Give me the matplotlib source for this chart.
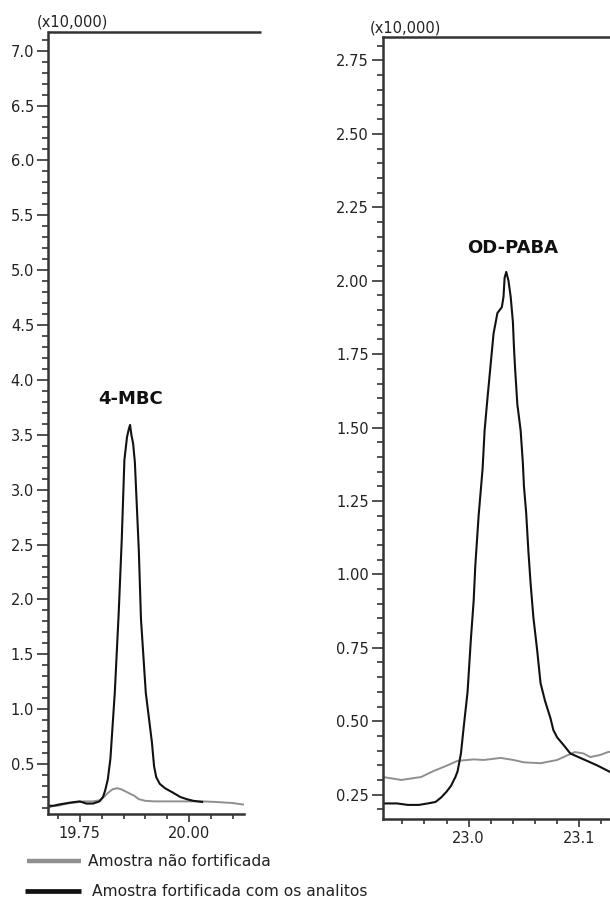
import matplotlib
matplotlib.use("Agg")
import matplotlib.pyplot as plt
from matplotlib.lines import Line2D
from matplotlib.ticker import MultipleLocator, FormatStrFormatter

plt.rcParams['font.family'] = ['DejaVu Sans']

# ---------------- data (intensity in x10,000) ----------------
# 4-MBC, fortified sample (black)
rt_mbc_fort = [19.677, 19.69, 19.70, 19.715, 19.73, 19.75, 19.765, 19.78, 19.795,
               19.803, 19.808, 19.814, 19.820, 19.830, 19.839, 19.846, 19.852,
               19.858, 19.862, 19.865, 19.868, 19.872, 19.876, 19.885, 19.890,
               19.901, 19.915, 19.920, 19.925, 19.933, 19.945, 19.963, 19.980,
               19.995, 20.010, 20.030]
int_mbc_fort = [0.12, 0.12, 0.13, 0.14, 0.15, 0.16, 0.14, 0.14, 0.16,
                0.20, 0.26, 0.36, 0.55, 1.15, 1.88, 2.55, 3.27,
                3.48, 3.55, 3.59, 3.50, 3.42, 3.25, 2.45, 1.82,
                1.15, 0.70, 0.48, 0.38, 0.32, 0.28, 0.24, 0.20,
                0.18, 0.165, 0.155]

# 4-MBC, non-fortified sample (gray)
rt_mbc_blank = [19.677, 19.69, 19.70, 19.72, 19.74, 19.76, 19.78, 19.795, 19.805,
                19.815, 19.825, 19.835, 19.845, 19.855, 19.865, 19.875, 19.885,
                19.90, 19.92, 19.95, 19.98, 20.00, 20.03, 20.06, 20.08, 20.10, 20.126]
int_mbc_blank = [0.10, 0.12, 0.12, 0.14, 0.15, 0.16, 0.16, 0.17, 0.20,
                 0.24, 0.27, 0.28, 0.27, 0.25, 0.23, 0.21, 0.18,
                 0.165, 0.16, 0.16, 0.16, 0.16, 0.16, 0.155, 0.15, 0.145, 0.13]

# OD-PABA, fortified sample (black)
rt_paba_fort = [22.9225, 22.935, 22.945, 22.955, 22.963, 22.970, 22.975, 22.980,
                22.984, 22.988, 22.990, 22.993, 22.9955, 22.999, 23.002, 23.0045,
                23.006, 23.009, 23.0126, 23.0144, 23.017, 23.020, 23.0225, 23.026,
                23.030, 23.0315, 23.0325, 23.034, 23.036, 23.038, 23.040, 23.041,
                23.042, 23.044, 23.047, 23.049, 23.050, 23.052, 23.054, 23.056,
                23.0585, 23.062, 23.065, 23.069, 23.074, 23.0766, 23.080, 23.0856,
                23.092, 23.101, 23.110, 23.116, 23.128, 23.14]
int_paba_fort = [0.22, 0.22, 0.215, 0.215, 0.22, 0.225, 0.24, 0.26,
                 0.28, 0.31, 0.33, 0.39, 0.48, 0.60, 0.78, 0.91,
                 1.03, 1.20, 1.36, 1.49, 1.60, 1.72, 1.82, 1.89,
                 1.91, 1.945, 2.01, 2.03, 2.00, 1.945, 1.86, 1.77,
                 1.70, 1.58, 1.49, 1.38, 1.30, 1.21, 1.08, 0.97,
                 0.855, 0.74, 0.63, 0.57, 0.51, 0.47, 0.445, 0.42,
                 0.39, 0.375, 0.36, 0.35, 0.327, 0.30]

# OD-PABA, non-fortified sample (gray)
rt_paba_blank = [22.9225, 22.939, 22.957, 22.968, 22.981, 22.990, 23.0045, 23.0135,
                 23.029, 23.0405, 23.050, 23.065, 23.080, 23.090, 23.096, 23.104,
                 23.110, 23.119, 23.126, 23.14]
int_paba_blank = [0.31, 0.30, 0.31, 0.33, 0.35, 0.365, 0.37, 0.368,
                  0.375, 0.368, 0.36, 0.357, 0.368, 0.385, 0.395, 0.39,
                  0.378, 0.385, 0.395, 0.40]

labels = ["Amostra não fortificada", "Amostra fortificada com os analitos"]
peak_names = ["4-MBC", "OD-PABA"]

# ---------------- figure ----------------
W, H = 610, 897
fig = plt.figure(figsize=(W / 100, H / 100), dpi=100)

def fx(px):
    return px / W

def fy(py):
    return 1 - py / H

SPINE = "#333333"
TEXT = "#222222"
GRAY = "#8f8f8f"
BLACK = "#111111"

def style(ax):
    for s in ("right",):
        ax.spines[s].set_visible(False)
    for s in ("left", "bottom", "top"):
        ax.spines[s].set_color(SPINE)
        ax.spines[s].set_linewidth(1.8)
    ax.tick_params(axis="y", which="major", direction="out", length=8, width=1.2,
                   color=SPINE, labelsize=10.5, labelcolor=TEXT, pad=2)
    ax.tick_params(axis="y", which="minor", direction="out", length=4.5, width=1.2,
                   color=SPINE)
    ax.tick_params(axis="x", which="major", direction="out", length=5.5, width=1.2,
                   color=SPINE, labelsize=10.5, labelcolor=TEXT, pad=3)
    ax.tick_params(axis="x", which="minor", direction="out", length=3.5, width=1.2,
                   color=SPINE)

# left panel (4-MBC)
axL = fig.add_axes([fx(48), fy(814), fx(244) - fx(48), fy(32) - fy(814)])
axL.plot(rt_mbc_blank, int_mbc_blank, color=GRAY, lw=1.4)
axL.plot(rt_mbc_fort, int_mbc_fort, color=BLACK, lw=1.5)
axL.set_xlim(19.677, 20.126)
axL.set_ylim(0.045, 7.17)
axL.xaxis.set_major_locator(MultipleLocator(0.25))
axL.xaxis.set_minor_locator(MultipleLocator(0.05))
axL.xaxis.set_major_formatter(FormatStrFormatter("%.2f"))
axL.yaxis.set_major_locator(MultipleLocator(0.5))
axL.yaxis.set_minor_locator(MultipleLocator(0.1))
axL.yaxis.set_major_formatter(FormatStrFormatter("%.1f"))
style(axL)
axL.spines["top"].set_visible(False)
axL.plot([0, 1.087], [1, 1], transform=axL.transAxes, color=SPINE, lw=1.8,
         clip_on=False, solid_capstyle="butt")
axL.text(19.865, 3.83, peak_names[0], ha="center", va="center",
         fontsize=13, fontweight="bold", color=BLACK)

# right panel (OD-PABA)
axR = fig.add_axes([fx(383), fy(819), fx(634.5) - fx(383), fy(37) - fy(819)])
axR.plot(rt_paba_blank, int_paba_blank, color=GRAY, lw=1.4)
axR.plot(rt_paba_fort, int_paba_fort, color=BLACK, lw=1.5)
axR.set_xlim(22.9225, 23.15)
axR.set_ylim(0.167, 2.830)
axR.xaxis.set_major_locator(MultipleLocator(0.1))
axR.xaxis.set_minor_locator(MultipleLocator(0.02))
axR.xaxis.set_major_formatter(FormatStrFormatter("%.1f"))
axR.yaxis.set_major_locator(MultipleLocator(0.25))
axR.yaxis.set_minor_locator(MultipleLocator(0.05))
axR.yaxis.set_major_formatter(FormatStrFormatter("%.2f"))
style(axR)
axR.text(23.040, 2.11, peak_names[1], ha="center", va="center",
         fontsize=13, fontweight="bold", color=BLACK)

# scale labels
fig.text(fx(37), fy(22), "(x10,000)", ha="left", va="center", fontsize=10.5, color=TEXT)
fig.text(fx(370), fy(28), "(x10,000)", ha="left", va="center", fontsize=10.5, color=TEXT)

# legend (manual)
fig.add_artist(Line2D([fx(27), fx(81)], [fy(861), fy(861)], transform=fig.transFigure,
                      color=GRAY, lw=3.2, solid_capstyle="butt"))
fig.text(fx(88), fy(861), labels[0], ha="left", va="center", fontsize=11.2, color=TEXT)
fig.add_artist(Line2D([fx(25), fx(81)], [fy(891), fy(891)], transform=fig.transFigure,
                      color=BLACK, lw=3.4, solid_capstyle="butt"))
fig.text(fx(92), fy(891), labels[1], ha="left", va="center", fontsize=11.2, color=TEXT)

fig.savefig("out.png", dpi=100)
